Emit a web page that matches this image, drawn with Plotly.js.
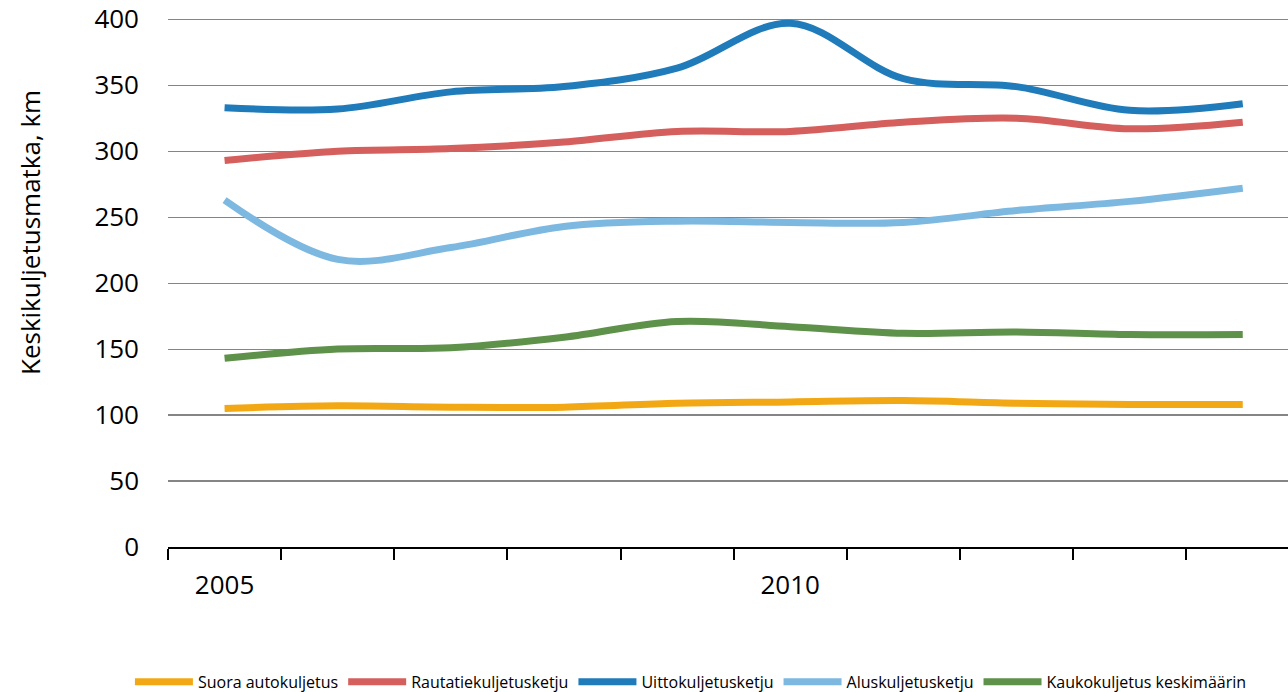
<!DOCTYPE html>
<html>
<head>
<meta charset="utf-8">
<script src="https://cdn.plot.ly/plotly-3.0.1.min.js"></script>
<style>
html,body{margin:0;padding:0;background:#fff;overflow:hidden;width:1288px;height:692px;}
#chart{width:1420px;height:692px;}
</style>
</head>
<body>
<div id="chart"></div>
<script>
const years = ['2005','2006','2007','2008','2009','2010','2011','2012','2013','2014'];
const tickLabels = ['2005','','','','','2010','','','',''];
const seriesNames = ['Suora autokuljetus','Rautatiekuljetusketju','Uittokuljetusketju','Aluskuljetusketju','Kaukokuljetus keskimäärin'];
const suora = [105, 107, 106, 106, 109, 110, 111, 109, 108, 108];
const rautatie = [293, 300, 302, 307, 315, 315, 322, 325, 317, 322];
const uitto = [333, 332, 345, 349, 363, 397, 355, 349, 331, 336];
const alus = [263, 218, 227, 243, 247, 246, 246, 255, 262, 272];
const kauko = [143, 150, 151, 159, 171, 167, 162, 163, 161, 161];
const colors = ['#F2A814','#D45F5C','#1F7BBA','#7DB8E1','#5E9149'];

const font = '"Open Sans", "DejaVu Sans", sans-serif';
const data = [suora, rautatie, uitto, alus, kauko].map((vals, i) => ({
  x: years, y: vals, type: 'scatter', mode: 'lines', name: seriesNames[i],
  line: {color: colors[i], width: 7, shape: 'spline', smoothing: 1}
}));

const layout = {
  width: 1420, height: 692,
  margin: {l: 168, r: 132, t: 18, b: 145, autoexpand: false},
  paper_bgcolor: '#fff', plot_bgcolor: '#fff',
  font: {family: font, color: '#000'},
  showlegend: true,
  legend: {orientation: 'h', x: -0.034, xanchor: 'left',
    yref: 'paper', y: -0.255, yanchor: 'middle',
    font: {size: 16, family: font}, itemwidth: 58,
    traceorder: 'normal'},
  xaxis: {
    type: 'category', range: [-0.5, 9.4], tickson: 'boundaries',
    tickvals: years, ticktext: tickLabels,
    ticks: 'outside', ticklen: 11, tickwidth: 2, tickcolor: '#000',
    showline: true, linecolor: '#000', linewidth: 2,
    showgrid: false, zeroline: false,
    tickfont: {size: 26, family: font}, ticklabelstandoff: 14
  },
  yaxis: {
    range: [0, 401], tickvals: [0,50,100,150,200,250,300,350,400],
    showgrid: true, gridcolor: '#858585', gridwidth: 1.2,
    zeroline: false, showline: false, ticks: '',
    tickfont: {size: 26, family: font}, ticklabelstandoff: 28
  },
  annotations: [{
    text: 'Keskikuljetusmatka, km', textangle: -90,
    xref: 'paper', yref: 'paper', x: -0.123, y: 0.594,
    xanchor: 'center', yanchor: 'middle', showarrow: false,
    font: {size: 26, family: font}
  }]
};
Plotly.newPlot('chart', data, layout, {displayModeBar: false, staticPlot: true});
</script>
</body>
</html>
